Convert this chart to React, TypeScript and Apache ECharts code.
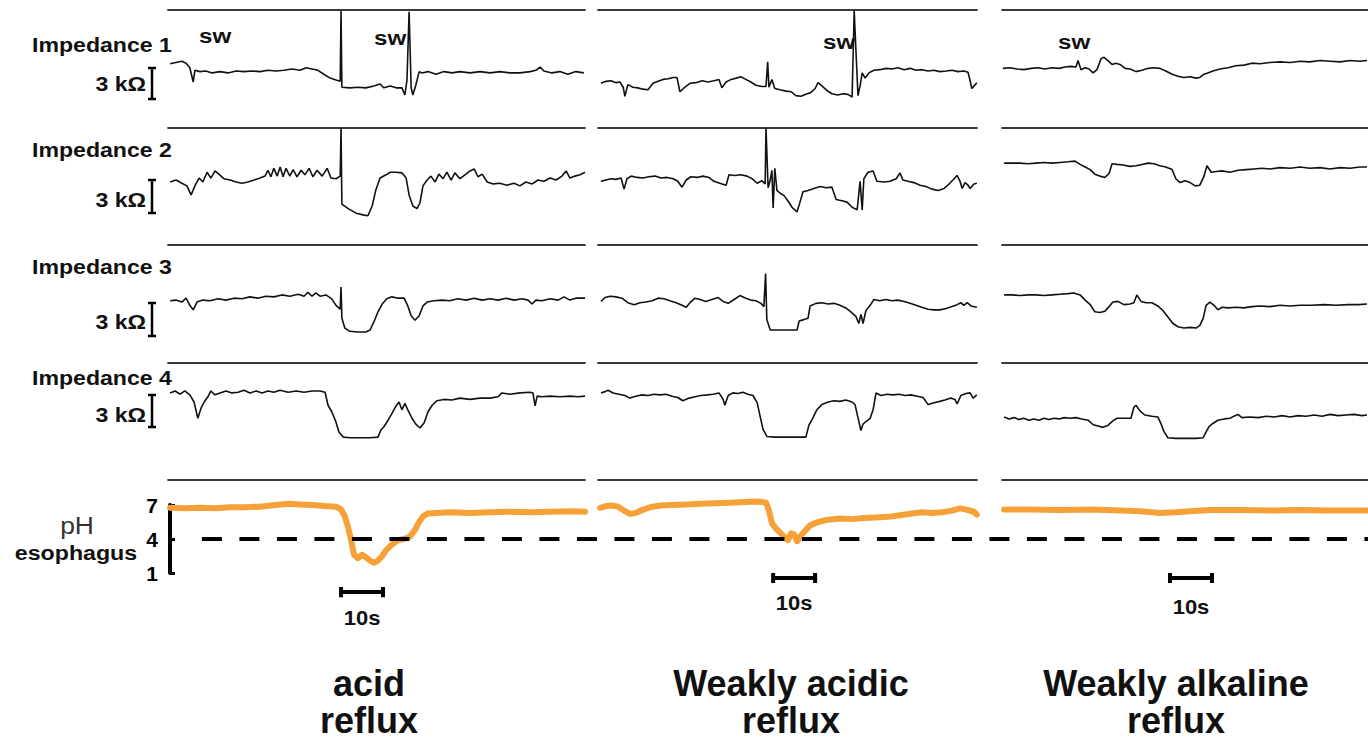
import React, { useEffect, useRef } from "react";
import * as echarts from "echarts";

// ---------- data: [time (s), impedance (kΩ)] ----------
const imp1Acid: number[][] = [[0.5,4.9],[1.9,5.0],[3.3,5.1],[4.3,4.95],[5.2,4.6],[6.0,3.5],[6.4,4.4],[7.6,4.3],[9.0,4.35],[10.5,4.2],[12.4,4.3],[14.3,4.2],[16.2,4.35],[18.1,4.3],[20,4.35],[21.9,4.3],[23.8,4.4],[25.7,4.35],[27.6,4.4],[29.5,4.5],[31.4,4.4],[32.9,4.6],[34.3,4.5],[35.7,4.4],[37.1,4.1],[38.6,3.8],[40,3.65],[41,3.55],[41.2,9.0],[41.4,3.1],[43.3,3.05],[45.2,3.1],[47.1,3.05],[49,3.2],[50.5,3.35],[51.4,3.05],[52.9,3.2],[54.3,3.05],[55.7,3.05],[56.4,2.5],[56.9,3.65],[57.4,8.9],[57.9,3.05],[58.3,2.5],[59,3.25],[59.8,4.3],[60.5,4.2],[61.9,4.3],[63.8,4.1],[65.7,4.3],[67.6,4.2],[69.5,4.3],[71.9,4.2],[74.3,4.3],[76.7,4.2],[79,4.3],[81.4,4.2],[83.8,4.2],[86.2,4.3],[87.6,4.4],[88.6,4.65],[89.5,4.35],[91.4,4.2],[93.3,4.3],[95.2,4.1],[97.1,4.3],[99,4.2]];
const imp2Acid: number[][] = [[0.5,4.85],[1.9,5.0],[3.3,4.75],[4.5,4.55],[5.5,3.85],[6.4,4.55],[7.4,5.15],[8.3,4.85],[9.3,5.6],[10.2,5.15],[11.2,5.7],[12.1,5.45],[13.3,5.1],[14.8,5.0],[16.2,4.85],[17.6,4.75],[19,4.85],[20.5,5.0],[21.9,5.15],[23.1,5.3],[23.8,5.75],[24.5,5.25],[25.2,5.9],[26,5.3],[26.7,6.0],[27.4,5.25],[28.1,5.9],[29,5.3],[29.8,5.8],[30.7,5.25],[31.7,5.75],[32.6,5.4],[33.6,5.9],[34.5,5.25],[35.5,5.75],[36.7,5.3],[37.9,5.9],[38.8,5.15],[40,5.1],[41,5.3],[41.2,9.0],[41.4,3.15],[42.9,2.8],[44.8,2.45],[46.7,2.3],[47.6,2.25],[48.6,3.0],[49.5,4.25],[50.5,5.15],[51.9,5.4],[52.9,5.6],[54.3,5.6],[55.7,5.55],[56.7,5.15],[57.4,3.85],[58.3,3.0],[59.3,2.8],[60,3.25],[60.7,4.55],[61.7,5.0],[62.6,5.3],[63.6,4.85],[64.5,5.45],[65.5,5.1],[66.4,5.6],[67.4,5.0],[68.3,5.55],[69.5,5.1],[70.7,5.4],[71.9,5.7],[72.9,5.85],[73.8,5.25],[74.8,5.45],[76,4.85],[77.4,4.7],[79,4.75],[80.7,4.6],[82.4,4.75],[83.8,4.55],[85.2,4.85],[86.7,4.7],[88.1,5.0],[89.5,4.9],[91,5.15],[92.4,5.0],[93.8,5.3],[94.8,5.7],[95.7,5.15],[96.9,5.3],[98.1,5.4],[99.3,5.6]];
const imp3Acid: number[][] = [[0.5,4.75],[1.9,4.8],[3.3,4.65],[4.3,4.95],[5.2,4.4],[6,4.05],[6.9,4.65],[8.3,4.8],[10,4.75],[11.9,4.9],[13.8,4.8],[15.7,4.95],[17.6,4.9],[19.5,5.05],[21.4,4.95],[23.3,5.1],[25.2,5.05],[27.1,5.2],[29,5.1],[31,5.25],[32.4,5.1],[33.3,5.4],[34.3,5.1],[35.2,5.35],[36.2,5.1],[37.6,5.2],[39,4.9],[40,4.4],[41,4.1],[41.2,5.8],[41.4,3.4],[42.1,2.65],[43.3,2.4],[45.2,2.35],[47.1,2.35],[48.1,2.5],[49,3.1],[50,3.9],[51,4.5],[52.1,4.9],[53.3,5.05],[54.8,4.95],[56.2,4.95],[57.1,4.35],[57.9,3.6],[58.8,3.25],[59.8,3.6],[60.7,4.35],[61.7,4.65],[63.3,4.75],[65.2,4.8],[67.1,4.75],[69,4.9],[71,4.8],[72.9,4.95],[74.8,4.8],[76.7,4.9],[78.6,4.8],[80.5,4.95],[82.4,4.8],[84.3,4.9],[85.7,4.8],[86.7,4.5],[87.6,4.8],[89,4.75],[91,4.9],[92.9,4.8],[94.3,5.05],[95.7,4.8],[97.1,4.95],[99.3,4.95]];
const imp4Acid: number[][] = [[0.5,6.7],[1.7,6.85],[2.9,6.6],[4,6.85],[5.2,6.55],[6.2,6.0],[7.1,4.75],[7.9,5.55],[8.6,6.0],[9.5,6.4],[10.2,6.85],[11.2,6.55],[12.4,6.7],[13.8,6.85],[15.2,6.7],[16.7,6.75],[18.1,6.9],[19.5,6.7],[21,6.85],[22.4,6.7],[23.8,6.85],[25.2,6.75],[26.7,6.9],[28.6,6.75],[30.5,6.85],[32.4,6.75],[34.3,6.85],[36.2,6.85],[37.4,6.75],[38.1,5.75],[39,5.25],[40,4.45],[40.7,3.7],[41.7,3.3],[43.3,3.25],[45.7,3.25],[48.1,3.25],[50,3.3],[50.7,3.85],[51.4,4.1],[52.4,4.6],[53.3,5.1],[54.3,5.7],[55,6.0],[55.7,5.4],[56.4,5.9],[57.1,5.4],[58.1,4.75],[59,4.3],[60,4.0],[61,4.4],[61.9,5.25],[62.9,5.75],[64,6.1],[65.7,6.2],[67.6,6.15],[69.5,6.3],[71.9,6.2],[74.3,6.3],[76.7,6.3],[78.6,6.4],[79.5,6.7],[81.4,6.6],[83.8,6.7],[86.2,6.75],[86.9,6.7],[87.4,5.7],[87.9,6.45],[89,6.4],[91,6.45],[93.3,6.4],[95.7,6.45],[97.6,6.4],[99.3,6.45]];

const imp1WeakAcid: number[][] = [[0.7,3.4],[1.9,3.55],[3.1,3.6],[4.3,3.45],[5.2,3.5],[6,3.1],[6.4,2.4],[7.1,3.3],[8.3,3.1],[9.5,3.05],[10.7,2.95],[11.9,2.9],[13.1,3.4],[14.3,3.55],[15.5,3.7],[16.7,3.75],[17.9,3.85],[18.8,3.85],[19.5,2.75],[20.7,3.1],[21.9,3.4],[23.3,3.45],[24.8,3.6],[26.2,3.5],[27.6,3.6],[28.8,3.7],[29.5,3.05],[30.5,3.5],[31.7,3.7],[32.9,3.8],[34,3.9],[35.2,3.7],[36.4,3.5],[37.6,3.25],[39,3.15],[40,3.15],[40.4,5.05],[40.7,3.1],[41.4,3.7],[42.1,3.0],[43.3,2.9],[44.8,2.8],[46,2.75],[47.1,2.45],[48.3,2.4],[49.5,2.55],[50.7,2.7],[51.7,3.0],[52.4,3.45],[53.3,3.2],[54.5,2.85],[55.7,2.6],[57.1,2.5],[58.3,2.6],[59.5,2.55],[60.5,2.35],[61,9.0],[61.4,6.0],[61.9,2.45],[62.4,3.2],[62.9,4.2],[63.6,3.8],[64.5,4.2],[65.7,4.4],[67.1,4.45],[68.6,4.55],[70,4.5],[71.4,4.6],[72.9,4.45],[74.3,4.55],[75.7,4.4],[77.1,4.45],[78.6,4.35],[80,4.4],[81.4,4.3],[82.9,4.35],[84.3,4.4],[85.7,4.3],[87.1,4.35],[88.1,4.25],[88.6,3.6],[89,3.0],[89.8,3.3],[90.2,3.45]];
const imp2WeakAcid: number[][] = [[0.7,4.9],[1.9,5.0],[3.1,5.1],[4.3,5.05],[5.5,5.15],[6.2,4.3],[6.9,5.1],[7.9,5.3],[9.3,5.2],[10.7,5.15],[12.1,5.25],[13.6,5.3],[15,5.15],[16.4,5.2],[17.9,5.1],[19,4.9],[20,4.45],[21,5.0],[22.1,5.25],[23.6,5.2],[25,5.3],[26.4,5.2],[27.6,4.9],[29,4.75],[30.5,4.6],[31.2,5.4],[32.6,5.35],[34,5.4],[35.5,5.3],[36.7,5.1],[37.9,4.75],[39,4.95],[39.8,4.7],[40,9.0],[40.5,4.4],[41,5.0],[41.4,5.75],[41.7,2.85],[42.1,5.9],[42.6,4.2],[43.3,4.0],[44.3,3.8],[45.2,3.4],[46.2,2.9],[47.4,2.55],[48.1,3.3],[48.8,4.1],[50,4.2],[51.4,4.35],[52.9,4.5],[54.3,4.4],[55.7,4.45],[56.7,3.5],[58.1,3.4],[59.3,3.3],[60.5,2.9],[61.7,2.7],[62.4,4.9],[62.9,2.7],[63.3,5.1],[64.3,5.6],[65.5,5.7],[66.4,4.9],[68.1,4.85],[69.5,4.9],[71,5.1],[71.9,5.55],[72.6,5.0],[73.8,4.9],[75.2,4.8],[76.7,4.6],[78.1,4.5],[79.5,4.3],[81,4.2],[82.4,4.35],[83.3,4.6],[84.5,5.0],[85.5,5.35],[86.2,4.9],[86.7,4.35],[87.4,4.8],[88.1,4.6],[88.6,4.35],[89.5,4.7],[90.2,4.75]];
const imp3WeakAcid: number[][] = [[0.7,4.7],[1.7,5.0],[2.9,5.1],[4.3,5.05],[5.7,4.95],[7.1,4.6],[8.6,4.45],[10,4.6],[11.4,4.65],[12.9,4.75],[14.3,4.95],[15.7,4.9],[17.1,4.75],[18.6,4.6],[20,4.4],[21,4.25],[21.9,4.6],[23.1,4.95],[24.3,4.85],[25.7,4.7],[27.1,4.85],[28.6,5.0],[29.8,4.7],[31,4.55],[32.4,4.85],[33.8,5.15],[35.2,4.95],[36.4,4.8],[37.6,4.75],[38.8,4.55],[39.5,4.3],[39.9,6.85],[40.2,3.3],[41,2.5],[43.3,2.5],[45.7,2.5],[47.4,2.5],[47.9,3.2],[49,3.3],[50,3.4],[50.5,4.35],[51.9,4.55],[53.3,4.6],[54.8,4.5],[56.2,4.55],[57.6,4.4],[59,4.2],[60.2,3.9],[61.4,3.55],[62.1,3.0],[62.6,3.7],[63.1,3.0],[63.8,4.0],[64.8,4.4],[65.7,4.85],[67.1,4.75],[68.6,4.85],[70,4.75],[71.4,4.8],[72.9,4.7],[74.3,4.55],[75.7,4.4],[77.1,4.25],[78.6,4.1],[80,4.05],[81.4,4.05],[82.9,4.15],[84.3,4.3],[85.5,4.45],[86.4,4.6],[87.1,4.4],[87.9,4.6],[88.8,4.35],[90.2,4.25]];
const imp4WeakAcid: number[][] = [[0.7,6.7],[1.7,6.8],[2.4,6.9],[3.6,6.7],[5,6.6],[6.4,6.5],[7.6,6.3],[9,6.45],[10.5,6.55],[11.9,6.5],[13.3,6.6],[14.8,6.55],[16.2,6.6],[17.6,6.45],[19,6.35],[20.2,6.1],[21.7,6.3],[23.1,6.4],[24.5,6.5],[26,6.55],[27.4,6.6],[28.8,6.7],[29.8,6.2],[30.2,5.75],[31,6.5],[32.1,6.7],[33.3,6.65],[34.5,6.75],[35.7,6.6],[36.9,6.5],[37.9,5.95],[38.6,4.9],[39.3,3.9],[40.2,3.35],[42.1,3.3],[44.5,3.3],[46.9,3.3],[49.5,3.3],[50.2,4.2],[51.2,4.8],[52.1,5.4],[53.3,5.8],[54.8,6.0],[56.2,6.1],[57.6,6.05],[59,6.15],[60.5,6.0],[61.2,5.8],[61.9,4.8],[62.6,3.8],[63.1,4.3],[63.8,4.5],[64.8,4.75],[65.5,5.4],[66.2,6.7],[67.4,6.5],[68.8,6.6],[70.2,6.55],[71.7,6.6],[73.1,6.5],[74.5,6.55],[76,6.45],[77.4,6.35],[78.6,5.8],[80,5.95],[81.4,6.05],[82.6,6.15],[84,6.3],[85,6.2],[85.5,5.85],[86.4,6.5],[87.6,6.65],[88.6,6.7],[89.3,6.3],[90.2,6.55]];

const imp1WeakAlk: number[][] = [[0.2,4.55],[1.9,4.6],[3.6,4.5],[5.2,4.45],[6.9,4.55],[8.6,4.6],[10.2,4.5],[11.9,4.6],[13.6,4.55],[15,4.65],[16.4,4.7],[17.6,4.65],[18.1,5.15],[18.8,4.45],[19.8,4.6],[20.7,4.5],[21.7,4.2],[22.6,4.45],[23.6,5.3],[24.3,5.4],[25.2,5.15],[26.2,4.85],[27.1,4.95],[28.1,4.85],[29.3,4.55],[30.5,4.5],[31.9,4.3],[33.3,4.4],[34.8,4.55],[36.2,4.6],[37.6,4.55],[39,4.35],[40.5,4.1],[41.9,3.95],[43.3,3.85],[44.8,3.9],[46.2,3.8],[47.1,3.85],[48.1,4.1],[49,4.2],[50.2,4.35],[51.9,4.5],[53.8,4.6],[55.7,4.75],[57.6,4.8],[59.5,4.95],[61.4,4.9],[63.8,5.0],[66.2,5.05],[68.6,5.0],[71,5.1],[73.3,5.05],[75.7,5.15],[78.1,5.1],[80.5,5.05],[82.9,5.15],[85.2,5.1],[86.9,5.15]];
const imp2WeakAlk: number[][] = [[0.5,6.3],[2.4,6.3],[4.3,6.3],[6.2,6.25],[8.1,6.3],[10,6.35],[11.9,6.3],[13.8,6.35],[15.7,6.4],[17.4,6.45],[18.6,6.2],[19.8,6.0],[21,5.8],[22.1,5.45],[23.3,5.3],[24.5,5.2],[25.5,5.5],[26.2,6.25],[27.4,6.2],[28.8,6.15],[30.5,6.05],[31.9,6.1],[33.3,6.2],[34.8,6.3],[36.2,6.25],[37.6,6.1],[39,6.0],[40.5,5.8],[41.4,5.1],[42.4,4.8],[43.6,4.95],[44.8,4.8],[46,4.55],[47.1,4.6],[48.1,5.3],[48.8,6.1],[49.8,5.6],[51,5.65],[52.4,5.7],[54.3,5.6],[56.2,5.75],[58.1,5.8],[60,5.85],[61.9,5.9],[63.8,5.85],[66.2,5.95],[68.6,5.9],[71,6.0],[73.3,5.9],[75.7,5.95],[78.1,5.85],[80.5,5.95],[82.9,5.9],[85.2,6.0],[86.9,6.0]];
const imp3WeakAlk: number[][] = [[0.5,5.2],[2.4,5.2],[4.3,5.15],[6.2,5.2],[8.1,5.2],[10,5.15],[11.9,5.2],[13.8,5.25],[15.7,5.3],[17.1,5.35],[18.6,5.2],[19.8,4.8],[21,4.45],[22.1,3.9],[23.3,3.85],[24.5,3.95],[25.5,4.3],[26.4,4.65],[27.6,4.7],[29,4.45],[30.5,4.5],[31.4,4.6],[32.1,5.2],[33.1,4.7],[34.3,4.6],[35.7,4.6],[37.1,4.35],[38.3,4.0],[39.5,3.5],[40.7,3.0],[41.9,2.75],[43.3,2.65],[44.8,2.7],[46.2,2.65],[47.1,2.85],[47.9,3.4],[48.6,4.4],[49.5,4.65],[50.5,4.4],[51.4,4.05],[52.4,4.25],[53.8,4.2],[55.7,4.25],[57.6,4.2],[59.5,4.3],[61.4,4.35],[63.8,4.3],[66.2,4.4],[68.6,4.35],[71,4.4],[73.8,4.4],[76.7,4.45],[79.5,4.4],[82.4,4.45],[84.8,4.45],[86.9,4.5]];
const imp4WeakAlk: number[][] = [[0.5,4.85],[1.7,4.7],[2.9,4.8],[4,4.65],[5.2,4.75],[6.4,4.6],[7.6,4.7],[8.8,4.6],[10,4.75],[11.2,4.65],[12.4,4.75],[13.6,4.7],[14.8,4.8],[16.2,4.75],[17.6,4.8],[19,4.7],[20.5,4.6],[21.7,4.25],[22.9,4.15],[24,4.05],[25.2,4.2],[26.4,4.55],[27.4,4.75],[29,4.75],[30.7,4.75],[31.4,5.6],[31.9,5.75],[32.9,5.3],[34,5.0],[35.7,4.9],[37.1,4.85],[37.9,4.3],[38.6,3.7],[39.5,3.25],[41.4,3.2],[43.8,3.2],[46.2,3.2],[47.9,3.25],[48.6,3.7],[49.3,4.1],[50.2,4.35],[51.4,4.6],[52.9,4.7],[54.3,4.75],[55.5,4.95],[56.2,5.05],[57.1,4.8],[59,4.85],[61,4.8],[62.9,4.9],[64.8,4.85],[66.7,4.95],[68.6,4.85],[70.5,4.95],[72.4,4.9],[74.3,5.0],[76.2,4.9],[78.1,5.05],[80,4.95],[81.9,5.0],[83.8,5.05],[85.7,4.95],[86.9,5.0]];

// ---------- data: [time (s), esophageal pH] ----------
const phAcid: number[][] = [[0.5,6.75],[4,6.7],[7.6,6.75],[11.2,6.7],[14.8,6.8],[18.3,6.8],[21.9,6.85],[25.5,7.0],[29,7.1],[31.4,7.05],[34.3,7.0],[37.4,6.9],[40,6.85],[41.2,6.6],[42.1,6.0],[42.9,5.0],[43.6,3.9],[44.3,2.6],[45.2,2.3],[46.2,2.6],[47.1,2.4],[48.1,2.1],[49,1.9],[50,2.1],[51,2.5],[51.9,3.0],[53.3,3.5],[54.8,3.9],[56.2,4.0],[57.6,4.2],[58.8,4.8],[59.8,5.5],[60.7,6.0],[61.9,6.25],[63.8,6.3],[67.1,6.35],[71.9,6.3],[76.7,6.35],[81.4,6.4],[86.2,6.35],[91,6.4],[95.7,6.45],[99.3,6.4]];
const phWeakAcid: number[][] = [[0.5,6.75],[1.9,6.9],[3.3,6.95],[4.8,6.85],[6.2,6.5],[7.6,6.2],[9,6.3],[10.5,6.55],[12.4,6.8],[14.8,6.95],[17.6,7.0],[21,7.05],[24.3,7.1],[27.9,7.15],[31.4,7.2],[34.8,7.25],[38.1,7.3],[40,7.2],[40.7,6.5],[41.4,5.4],[42.4,4.9],[43.3,4.6],[44.3,4.2],[45.2,3.9],[46,4.5],[46.7,4.4],[47.4,3.8],[48.1,4.2],[49,4.6],[50.5,5.2],[52.4,5.5],[54.8,5.7],[57.6,5.8],[60.5,5.75],[63.3,5.85],[66.2,5.9],[69,5.95],[71.9,6.1],[74.8,6.25],[77.1,6.35],[79.5,6.3],[81.9,6.35],[84.3,6.5],[86.2,6.7],[88.1,6.55],[89.5,6.4],[90.2,6.15]];
const phWeakAlk: number[][] = [[0.5,6.6],[6.7,6.6],[13.8,6.55],[21,6.6],[28.1,6.5],[32.9,6.45],[37.6,6.3],[41.2,6.35],[44.8,6.45],[49.5,6.55],[56.7,6.55],[63.8,6.5],[71,6.55],[78.1,6.5],[86.9,6.5]];

const columnTitles = [["acid", "reflux"], ["Weakly acidic", "reflux"], ["Weakly alkaline", "reflux"]];
const rowLabels = ["Impedance 1", "Impedance 2", "Impedance 3", "Impedance 4"];
const phTicks = [1, 4, 7];
const phThreshold = 4;
const scaleBarSeconds = 10;
const impedanceScaleLabel = "3 kΩ";

const impedance = [
  [imp1Acid, imp2Acid, imp3Acid, imp4Acid],
  [imp1WeakAcid, imp2WeakAcid, imp3WeakAcid, imp4WeakAcid],
  [imp1WeakAlk, imp2WeakAlk, imp3WeakAlk, imp4WeakAlk],
];
const phSeries = [phAcid, phWeakAcid, phWeakAlk];

// ---------- layout ----------
const PX_PER_S = 4.2;
const COLS = [
  { left: 168, width: 417, titleX: 369, barStart: 41.2, barLevel: -0.68, tenY: 618 },
  { left: 598, width: 379, titleX: 791, barStart: 41.7, barLevel: 0.56, tenY: 603 },
  { left: 1002, width: 366, titleX: 1176, barStart: 40, barLevel: 0.56, tenY: 607 },
];
const ROW_TOPS = [10, 127.5, 245, 362.5];
const ROW_H = 117.5;
const IMP_MAX = 9.04;
const PH_TOP = 480;
const PH_H = 93;
const PH_MAX = 9.2;
const FONT = '"Liberation Sans", Arial, Helvetica, sans-serif';
const ORANGE = "#F6A038";

function txt(text: string, x: number, y: number, o: any = {}) {
  const align = o.align || "left";
  return {
    type: "text",
    x,
    y,
    scaleX: o.scaleX || 1,
    z: 20,
    style: {
      text,
      x: 0,
      y: 0,
      font: `${o.weight || "bold"} ${o.size || 20}px ${FONT}`,
      fill: o.fill || "#111",
      textAlign: align,
      align,
      textVerticalAlign: "middle",
      verticalAlign: "middle",
    },
  };
}

export default function App() {
  const ref = useRef<HTMLDivElement>(null);
  useEffect(() => {
    if (!ref.current) return;
    const chart = echarts.init(ref.current, undefined, { renderer: "svg" });
    const grid: any[] = [];
    const xAxis: any[] = [];
    const yAxis: any[] = [];
    const series: any[] = [];
    const sepLine = { show: true, onZero: false, lineStyle: { color: "#3a3a3a", width: 1.8 } };

    COLS.forEach((col, c) => {
      const dur = col.width / PX_PER_S;
      for (let r = 0; r < 5; r++) {
        const gi = grid.length;
        const isPh = r === 4;
        grid.push({
          left: col.left,
          width: col.width,
          top: isPh ? PH_TOP : ROW_TOPS[r],
          height: isPh ? PH_H : ROW_H,
        });
        xAxis.push({
          type: "value", gridIndex: gi, min: 0, max: dur, position: "top",
          axisLine: sepLine, axisTick: { show: false }, axisLabel: { show: false }, splitLine: { show: false },
        });
        yAxis.push({
          type: "value", gridIndex: gi, min: isPh ? 1 : 0, max: isPh ? PH_MAX : IMP_MAX, show: false,
        });
        if (!isPh) {
          series.push({
            type: "line", xAxisIndex: gi, yAxisIndex: gi, data: impedance[c][r],
            symbol: "none", lineStyle: { color: "#111", width: 1.6 }, z: 3,
          });
        } else {
          series.push({
            type: "line", xAxisIndex: gi, yAxisIndex: gi, data: phSeries[c],
            symbol: "none", lineStyle: { color: ORANGE, width: 6, cap: "round", join: "round" }, z: 3,
          });
          const t0 = col.barStart;
          const t1 = col.barStart + scaleBarSeconds;
          const lv = col.barLevel;
          const cap = 0.45;
          series.push({
            type: "line", xAxisIndex: gi, yAxisIndex: gi, clip: false,
            data: [[t0, lv - cap], [t0, lv + cap], [t0, lv], [t1, lv], [t1, lv + cap], [t1, lv - cap]],
            symbol: "none", lineStyle: { color: "#000", width: 4 }, z: 4,
          });
        }
      }
    });

    // pH axis overlay spanning the pH row
    const oi = grid.length;
    const overlayWidth = 1198;
    grid.push({ left: 170, top: 505, width: overlayWidth, height: 68 });
    xAxis.push({ type: "value", gridIndex: oi, min: 0, max: overlayWidth / PX_PER_S, show: false });
    yAxis.push({
      type: "value", gridIndex: oi, min: 1, max: 7,
      axisLine: { show: true, onZero: false, lineStyle: { color: "#000", width: 4 } },
      axisTick: { show: true, inside: true, length: 5, customValues: phTicks, lineStyle: { color: "#000", width: 3 } },
      axisLabel: { show: true, customValues: phTicks, margin: 12, color: "#000", fontSize: 21, fontWeight: "bold", fontFamily: FONT },
      splitLine: { show: false },
    });
    series.push({
      type: "line", xAxisIndex: oi, yAxisIndex: oi,
      data: [[7.6, phThreshold], [overlayWidth / PX_PER_S, phThreshold]],
      symbol: "none", lineStyle: { color: "#000", width: 4, type: [20, 17.5] }, z: 6,
    });

    const graphic: any[] = [];
    const labelY = [45, 150, 267, 378];
    const kY = [84, 200, 322, 415];
    const bars = [[68, 99], [180, 213], [303, 336], [395, 427]];
    rowLabels.forEach((t, i) => {
      graphic.push(txt(t, 32, labelY[i], { size: 21, scaleX: 1.1 }));
      graphic.push(txt(impedanceScaleLabel, 146, kY[i], { align: "right", size: 21, scaleX: 1.1 }));
      const [a, b] = bars[i];
      graphic.push({
        type: "polyline", z: 20,
        shape: { points: [[148, a], [156, a], [152, a], [152, b], [148, b], [156, b]] },
        style: { stroke: "#000", lineWidth: 2.5, fill: null },
      });
    });
    [[199, 36], [374, 38], [823, 42], [1058, 42]].forEach(([x, y]) =>
      graphic.push(txt("sw", x, y, { size: 21, scaleX: 1.15 }))
    );
    graphic.push(txt("pH", 77, 525, { align: "center", weight: "normal", size: 24, fill: "#333", scaleX: 1.1 }));
    graphic.push(txt("esophagus", 76, 553, { align: "center", size: 20, scaleX: 1.16 }));
    COLS.forEach((col, c) => {
      const cx = col.left + (col.barStart + scaleBarSeconds / 2) * PX_PER_S;
      graphic.push(txt(`${scaleBarSeconds}s`, cx, col.tenY, { align: "center", size: 20, scaleX: 1.1 }));
      graphic.push(txt(columnTitles[c][0], col.titleX, 683, { align: "center", size: 36 }));
      graphic.push(txt(columnTitles[c][1], col.titleX, 720, { align: "center", size: 36 }));
    });

    chart.setOption({
      animation: false,
      backgroundColor: "#fff",
      grid, xAxis, yAxis, series, graphic,
    });
    return () => chart.dispose();
  }, []);
  return <div ref={ref} style={{ position: "fixed", left: 0, top: 0, width: 1368, height: 740 }} />;
}
